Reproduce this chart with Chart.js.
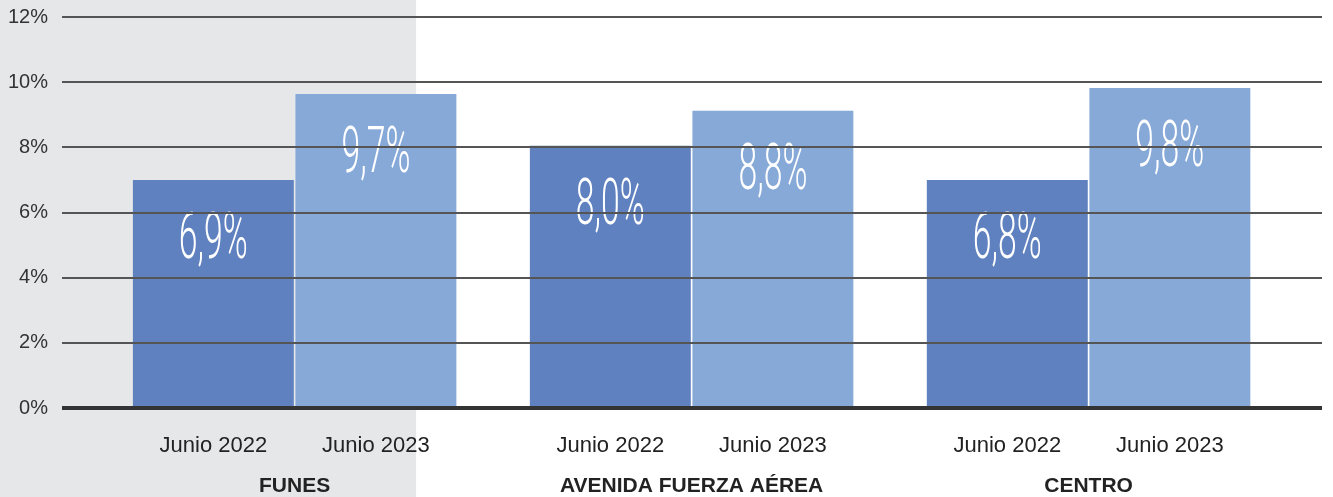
<!DOCTYPE html>
<html>
<head>
<meta charset="utf-8">
<script src="https://cdn.jsdelivr.net/npm/chart.js@4.4.1/dist/chart.umd.min.js"></script>
<style>
  html, body { margin: 0; padding: 0; background: #fff; }
  #wrap { width: 1333px; height: 497px; position: relative; }
</style>
</head>
<body>
<div id="wrap"><canvas id="chart"></canvas></div>
<script>
// ---------- data ----------
const groups = ["FUNES", "AVENIDA FUERZA AÉREA", "CENTRO"];
const seriesNames = ["Junio 2022", "Junio 2023"];
const values2022 = [7.0, 8.05, 7.0];
const values2023 = [9.64, 9.12, 9.82];
const labels2022 = ["6,9%", "8,0%", "6,8%"];
const labels2023 = ["9,7%", "8,8%", "9,8%"];
const yTicks = [0, 2, 4, 6, 8, 10, 12];

const COLORS = ["#5f81bf", "#86a9d8"];
const CAT_PCT = 0.819;
const X_MIN = 0.414;
const X_MAX = 3.588;
const HIGHLIGHT_END = 1.306; // grey band behind FUNES, in x units

// ---------- plugins ----------
const highlightBand = {
  id: "highlightBand",
  beforeDraw(chart) {
    const { ctx } = chart;
    const x = chart.scales.x.getPixelForValue(HIGHLIGHT_END);
    ctx.save();
    ctx.fillStyle = "#e6e7e9";
    ctx.fillRect(0, 0, x, chart.height);
    ctx.restore();
  },
};

const barLabels = {
  id: "barLabels",
  afterDatasetsDraw(chart) {
    const { ctx } = chart;
    const texts = [labels2022, labels2023];
    chart.data.datasets.forEach((ds, di) => {
      chart.getDatasetMeta(di).data.forEach((bar, i) => {
        ctx.save();
        ctx.translate(bar.x, bar.y + 62);
        ctx.scale(0.52, 1);
        ctx.font = "300 65px Roboto, 'DejaVu Sans', sans-serif";
        ctx.fillStyle = "#ffffff";
        ctx.textAlign = "center";
        ctx.textBaseline = "middle";
        ctx.fillText(texts[di][i], 0, 0);
        ctx.restore();
      });
    });
  },
};

// ---------- chart ----------
const ctx = document.getElementById("chart").getContext("2d");

new Chart(ctx, {
  type: "bar",
  data: {
    datasets: [
      {
        label: seriesNames[0],
        data: values2022.map((v, i) => ({ x: i + 1, y: v })),
        backgroundColor: COLORS[0],
        xAxisID: "x",
      },
      {
        label: seriesNames[1],
        data: values2023.map((v, i) => ({ x: i + 1, y: v })),
        backgroundColor: COLORS[1],
        xAxisID: "x",
      },
    ],
  },
  options: {
    responsive: true,
    maintainAspectRatio: false,
    animation: false,
    categoryPercentage: CAT_PCT,
    barPercentage: 0.99,
    layout: { autoPadding: false, padding: { top: 17, right: 11, left: 0, bottom: 0 } },
    plugins: { legend: { display: false }, tooltip: { enabled: false } },
    scales: {
      y: {
        min: 0,
        max: 12,
        afterBuildTicks: (s) => { s.ticks = yTicks.map((v) => ({ value: v })); },
        afterFit: (s) => { s.width = 62; s.paddingTop = 0; s.paddingBottom = 0; },
        border: { display: false },
        grid: {
          z: 1,
          drawTicks: false,
          color: (c) => (c.tick && c.tick.value === 0 ? "#333333" : "#555555"),
          lineWidth: (c) => (c.tick && c.tick.value === 0 ? 4 : 2),
        },
        ticks: {
          padding: 14,
          color: "#333333",
          font: { family: "'Liberation Sans', Arial, sans-serif", size: 20 },
          callback: (v) => v + "%",
        },
      },
      x2: {
        type: "linear",
        position: "bottom",
        weight: 0,
        min: X_MIN,
        max: X_MAX,
        offset: false,
        afterBuildTicks: (s) => {
          const t = [];
          groups.forEach((g, i) => {
            t.push({ value: i + 1 - CAT_PCT / 4 });
            t.push({ value: i + 1 + CAT_PCT / 4 });
          });
          s.ticks = t;
        },
        afterFit: (s) => { s.height = 52; s.paddingLeft = 0; s.paddingRight = 0; },
        border: { display: false },
        grid: { display: false, drawTicks: false },
        ticks: {
          autoSkip: false,
          maxRotation: 0,
          padding: 25,
          color: "#222222",
          font: { family: "'Liberation Sans', Arial, sans-serif", size: 22 },
          callback: (v, i) => seriesNames[i % 2],
        },
      },
      x: {
        type: "linear",
        position: "bottom",
        weight: 1,
        min: X_MIN,
        max: X_MAX,
        offset: false,
        afterBuildTicks: (s) => { s.ticks = groups.map((g, i) => ({ value: i + 1 })); },
        afterFit: (s) => { s.height = 37; s.paddingLeft = 0; s.paddingRight = 0; },
        border: { display: false },
        grid: { display: false, drawTicks: false },
        ticks: {
          autoSkip: false,
          maxRotation: 0,
          padding: 14,
          color: "#222222",
          font: { family: "'Liberation Sans', Arial, sans-serif", size: 21, weight: "bold" },
          callback: (v, i) => groups[i],
        },
      },
    },
  },
  plugins: [highlightBand, barLabels],
});
</script>
</body>
</html>
